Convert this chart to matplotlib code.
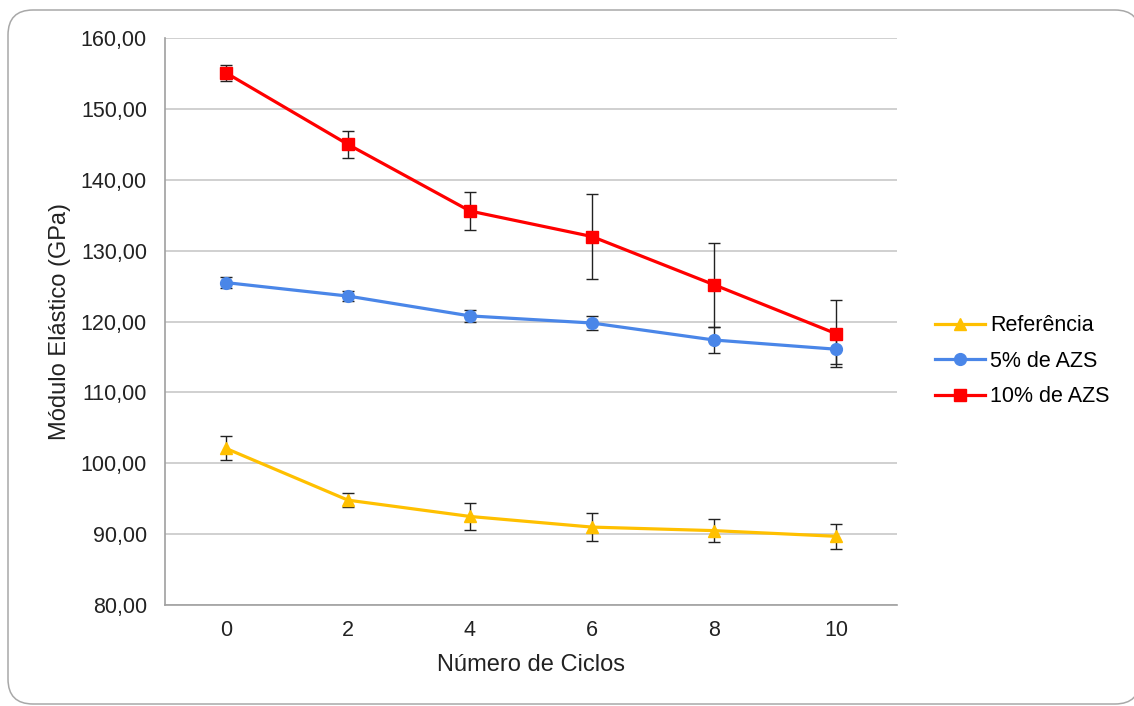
import numpy as np
import matplotlib.pyplot as plt
from matplotlib.patches import FancyBboxPatch
from matplotlib.ticker import FuncFormatter

# dados
ciclos = [0, 2, 4, 6, 8, 10]
referencia = [102.1, 94.8, 92.5, 91.0, 90.5, 89.7]
referencia_err = [1.7, 1.0, 1.9, 2.0, 1.6, 1.8]
azs_5 = [125.5, 123.6, 120.8, 119.8, 117.4, 116.1]
azs_5_err = [0.8, 0.7, 0.9, 1.0, 1.8, 2.1]
azs_10 = [155.1, 145.0, 135.6, 132.0, 125.2, 118.3]
azs_10_err = [1.1, 1.9, 2.7, 6.0, 5.9, 4.7]

plt.rcParams['font.family'] = ['Liberation Sans', 'DejaVu Sans']

fig = plt.figure(figsize=(11.34, 7.06), dpi=100)
# moldura arredondada (em polegadas)
moldura = FancyBboxPatch((0.08, 0.02), 11.32, 6.94, boxstyle='round,pad=0,rounding_size=0.25',
                         transform=fig.dpi_scale_trans, facecolor='white', edgecolor='#a8a8a8',
                         linewidth=1.1, zorder=-10)
fig.patches.append(moldura)

ax = fig.add_axes([0.1455, 0.143, 0.6455, 0.803])
ax.set_facecolor('none')
x = np.arange(len(ciclos))

series = [
    (referencia, referencia_err, '#FFC000', '^', 'Referência'),
    (azs_5, azs_5_err, '#4A86E8', 'o', '5% de AZS'),
    (azs_10, azs_10_err, '#FF0000', 's', '10% de AZS'),
]
for vals, err, cor, mk, nome in series:
    ax.errorbar(x, vals, yerr=err, fmt='none', ecolor='#222222', elinewidth=1.0, capsize=4, capthick=1.0, zorder=2)
    ax.plot(x, vals, color=cor, marker=mk, markersize=8.5, linewidth=2.3, label=nome, zorder=3)

ax.set_xlim(-0.5, len(ciclos) - 0.5)
ax.set_ylim(80, 160)
ax.set_yticks(np.arange(80, 161, 10))
ax.yaxis.set_major_formatter(FuncFormatter(lambda v, p: f'{v:.2f}'.replace('.', ',')))
ax.set_xticks(x)
ax.set_xticklabels([str(c) for c in ciclos])
ax.tick_params(axis='both', length=0, labelsize=15.5, colors='#222222')
ax.tick_params(axis='y', pad=13)
ax.tick_params(axis='x', pad=11)
ax.grid(axis='y', color='#c8c8c8', linewidth=1.2)
ax.set_axisbelow(True)
for s in ['top', 'right']:
    ax.spines[s].set_visible(False)
for s in ['left', 'bottom']:
    ax.spines[s].set_color('#a0a0a0')
    ax.spines[s].set_linewidth(1.2)

ax.set_xlabel('Número de Ciclos', fontsize=17, color='#222222')
ax.set_ylabel('Módulo Elástico (GPa)', fontsize=17, color='#222222')
ax.xaxis.set_label_coords(0.5, -0.086)
ax.yaxis.set_label_coords(-0.128, 0.5)

ax.legend(loc='center left', bbox_to_anchor=(1.052, 0.43), frameon=False, fontsize=15.5,
          borderpad=0, borderaxespad=0, handlelength=2.33, handletextpad=0.23, labelspacing=0.67)

fig.savefig('out.png', dpi=100)
